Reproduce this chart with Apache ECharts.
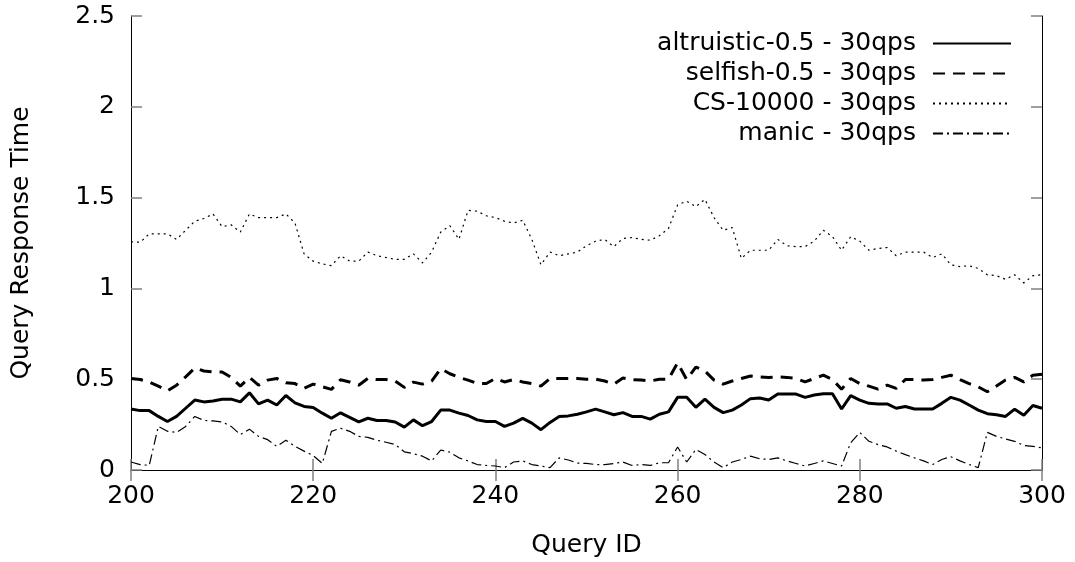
<!DOCTYPE html>
<html>
<head>
<meta charset="utf-8">
<script src="https://cdn.jsdelivr.net/npm/echarts@6/dist/echarts.min.js"></script>
<style>
  html, body { margin: 0; padding: 0; background: #fff; }
  #chart { width: 1075px; height: 562px; }
</style>
</head>
<body>
<div id="chart"></div>
<script>
// query ids 200..300 (x axis)
var queryIds = [];
for (var q = 200; q <= 300; q++) queryIds.push(q);

var xTicks = [200, 220, 240, 260, 280, 300];
var yTicks = [0, 0.5, 1, 1.5, 2, 2.5];

var altruistic = [
  0.336, 0.327, 0.327, 0.295, 0.267, 0.295, 0.34, 0.385, 0.375, 0.38,
  0.39, 0.39, 0.375, 0.425, 0.364, 0.385, 0.358, 0.41, 0.37, 0.35,
  0.344, 0.313, 0.285, 0.315, 0.29, 0.265, 0.285, 0.273, 0.273, 0.264,
  0.236, 0.276, 0.244, 0.267, 0.33, 0.33, 0.313, 0.3, 0.276, 0.267,
  0.267, 0.24, 0.258, 0.284, 0.258, 0.222, 0.262, 0.295, 0.298, 0.307,
  0.32, 0.335, 0.32, 0.304, 0.316, 0.295, 0.295, 0.28, 0.307, 0.32,
  0.4, 0.4, 0.345, 0.39, 0.345, 0.316, 0.33, 0.358, 0.393, 0.396,
  0.385, 0.418, 0.418, 0.418, 0.4, 0.413, 0.42, 0.42, 0.336, 0.41,
  0.385, 0.367, 0.364, 0.364, 0.34, 0.35, 0.336, 0.336, 0.336, 0.367,
  0.4, 0.385, 0.358, 0.33, 0.31, 0.304, 0.295, 0.335, 0.302, 0.355,
  0.34
];

var selfish = [
  0.504, 0.498, 0.485, 0.462, 0.436, 0.467, 0.513, 0.562, 0.545, 0.54,
  0.54, 0.51, 0.462, 0.51, 0.467, 0.495, 0.504, 0.48, 0.476, 0.45,
  0.473, 0.458, 0.444, 0.497, 0.485, 0.467, 0.504, 0.498, 0.498, 0.49,
  0.455, 0.484, 0.473, 0.49, 0.558, 0.53, 0.51, 0.495, 0.476, 0.476,
  0.504, 0.485, 0.498, 0.485, 0.476, 0.462, 0.504, 0.504, 0.504, 0.504,
  0.5, 0.5, 0.49, 0.473, 0.507, 0.498, 0.495, 0.49, 0.5, 0.5,
  0.59, 0.498, 0.567, 0.545, 0.495, 0.473, 0.49, 0.504, 0.518, 0.513,
  0.51, 0.513, 0.51, 0.504, 0.485, 0.504, 0.522, 0.498, 0.445, 0.504,
  0.476, 0.462, 0.445, 0.467, 0.449, 0.498, 0.498, 0.495, 0.498, 0.51,
  0.522, 0.498, 0.476, 0.458, 0.431, 0.462, 0.495, 0.51, 0.485, 0.522,
  0.527
];

var cs10000 = [
  1.257, 1.254, 1.3, 1.3, 1.3, 1.27, 1.32, 1.37, 1.385, 1.41,
  1.34, 1.35, 1.31, 1.41, 1.39, 1.39, 1.39, 1.41, 1.36, 1.19,
  1.15, 1.135, 1.125, 1.18, 1.15, 1.15, 1.2, 1.18, 1.17, 1.16,
  1.16, 1.19, 1.14, 1.2, 1.31, 1.345, 1.27, 1.43, 1.425, 1.4,
  1.39, 1.37, 1.36, 1.375, 1.27, 1.13, 1.2, 1.18, 1.19, 1.2,
  1.235, 1.26, 1.27, 1.23, 1.275, 1.28, 1.27, 1.265, 1.29, 1.33,
  1.46, 1.48, 1.45, 1.49, 1.39, 1.32, 1.335, 1.165, 1.21, 1.21,
  1.21, 1.27, 1.235, 1.23, 1.23, 1.26, 1.32, 1.285, 1.21, 1.285,
  1.26, 1.21, 1.22, 1.225, 1.18, 1.2, 1.2, 1.2, 1.17, 1.19,
  1.13, 1.12, 1.125, 1.11, 1.075, 1.07, 1.05, 1.075, 1.03, 1.07,
  1.075
];

var manic = [
  0.044, 0.03, 0.025, 0.24, 0.213, 0.207, 0.24, 0.295, 0.273, 0.27,
  0.265, 0.24, 0.195, 0.225, 0.185, 0.167, 0.13, 0.164, 0.13, 0.104,
  0.08, 0.036, 0.213, 0.23, 0.213, 0.185, 0.18, 0.164, 0.153, 0.14,
  0.1, 0.09, 0.076, 0.05, 0.11, 0.098, 0.067, 0.05, 0.03, 0.025,
  0.022, 0.013, 0.044, 0.05, 0.03, 0.022, 0.013, 0.067, 0.055, 0.038,
  0.036, 0.03, 0.03, 0.036, 0.044, 0.025, 0.03, 0.025, 0.04, 0.04,
  0.127, 0.044, 0.113, 0.085, 0.044, 0.013, 0.044, 0.058, 0.076, 0.062,
  0.058, 0.067, 0.05, 0.036, 0.022, 0.036, 0.05, 0.036, 0.022, 0.15,
  0.207, 0.158, 0.14, 0.127, 0.104, 0.085, 0.067, 0.05, 0.03, 0.058,
  0.073, 0.05, 0.03, 0.013, 0.207, 0.185, 0.171, 0.158, 0.135, 0.13,
  0.122
];

var seriesNames = ['altruistic-0.5 - 30qps', 'selfish-0.5 - 30qps', 'CS-10000 - 30qps', 'manic - 30qps'];

function pairs(vals) {
  return queryIds.map(function (id, i) { return [id, vals[i]]; });
}

var font = 'DejaVu Sans';
var fs = 25;
var chart = echarts.init(document.getElementById('chart'));

function xAxisCfg(pos, showLabel) {
  return {
    type: 'value', position: pos,
    min: xTicks[0], max: xTicks[xTicks.length - 1], interval: xTicks[1] - xTicks[0],
    axisLine: { show: true, lineStyle: { color: '#000', width: 1 } },
    axisTick: { show: true, inside: true, length: 11, lineStyle: { color: '#808080', width: 1.5 } },
    axisLabel: { show: showLabel, color: '#000', fontSize: fs, fontFamily: font, margin: 14 },
    splitLine: { show: false },
    name: showLabel ? 'Query ID' : '', nameLocation: 'middle', nameGap: 63,
    nameTextStyle: { color: '#000', fontSize: fs, fontFamily: font }
  };
}
function yAxisCfg(pos, showLabel) {
  return {
    type: 'value', position: pos,
    min: yTicks[0], max: yTicks[yTicks.length - 1], interval: yTicks[1] - yTicks[0],
    axisLine: { show: true, lineStyle: { color: '#000', width: 1 } },
    axisTick: { show: true, inside: true, length: 11, lineStyle: { color: '#808080', width: 1.5 } },
    axisLabel: { show: showLabel, color: '#000', fontSize: fs, fontFamily: font, margin: 16 },
    splitLine: { show: false },
    name: showLabel ? 'Query Response Time' : '', nameLocation: 'middle', nameGap: 97,
    nameTextStyle: { color: '#000', fontSize: fs, fontFamily: font }
  };
}

var styles = [
  { width: 3, type: 'solid' },
  { width: 3, type: [12, 8] },
  { width: 1.2, type: [2, 4] },
  { width: 1.2, type: [10, 4, 2, 4] }
];
var allData = [altruistic, selfish, cs10000, manic];

chart.setOption({
  animation: false,
  backgroundColor: '#fff',
  grid: { left: 131, right: 33, top: 16, bottom: 92, outerBoundsMode: 'none' },
  legend: {
    orient: 'vertical', right: 58, top: 26, align: 'right',
    itemWidth: 78, itemHeight: 14, itemGap: 5,
    itemStyle: { opacity: 0 },
    textStyle: { color: '#000', fontSize: fs, fontFamily: font, lineHeight: 24, padding: [0, 12, 0, 0] },
    data: seriesNames
  },
  xAxis: [xAxisCfg('bottom', true), xAxisCfg('top', false)],
  yAxis: [yAxisCfg('left', true), yAxisCfg('right', false)],
  series: seriesNames.map(function (n, k) {
    return {
      name: n, type: 'line', data: pairs(allData[k]),
      showSymbol: false, symbol: 'none',
      lineStyle: { color: '#000', width: styles[k].width, type: styles[k].type },
      itemStyle: { color: '#000' }
    };
  })
});
</script>
</body>
</html>
